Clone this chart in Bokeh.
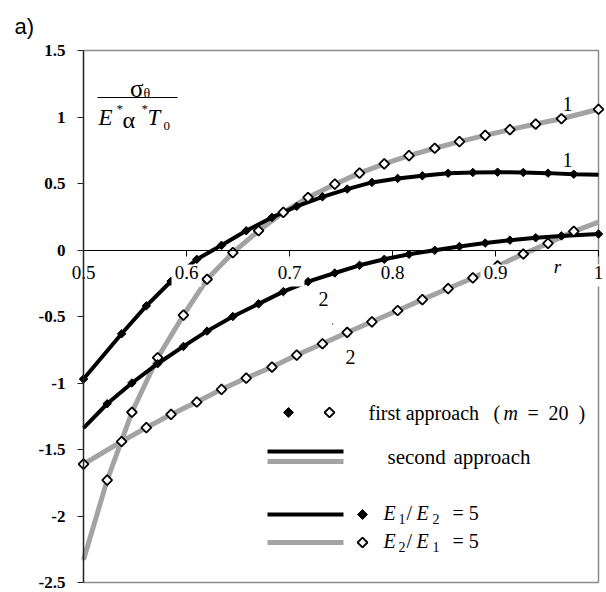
import math
from bokeh.plotting import figure
from bokeh.models import Range1d, LinearAxis, FixedTicker
from bokeh.core.properties import value
from bokeh.embed import file_html
from bokeh.resources import INLINE

# ---------------- data ----------------
X_TICKS = [0.5, 0.6, 0.7, 0.8, 0.9, 1.0]
X_TICK_LABELS = ["0.5", "0.6", "0.7", "0.8", "0.9", "1"]
Y_TICKS = [1.5, 1.0, 0.5, 0.0, -0.5, -1.0, -1.5, -2.0, -2.5]
Y_TICK_LABELS = ["1.5", "1", "0.5", "0", "-0.5", "-1", "-1.5", "-2", "-2.5"]

# first approach (m = 20) : points
R_A = [0.500, 0.537, 0.561, 0.585, 0.610, 0.634, 0.658, 0.683, 0.707, 0.732,
       0.756, 0.780, 0.805, 0.829, 0.854, 0.878, 0.902, 0.927, 0.951, 0.976]
FA_B1 = [-0.97, -0.63, -0.42, -0.235, -0.07, 0.035, 0.145, 0.245, 0.328, 0.40,
         0.458, 0.508, 0.538, 0.558, 0.577, 0.583, 0.585, 0.583, 0.578, 0.570]
FA_G2 = [-1.61, -1.44, -1.336, -1.236, -1.143, -1.048, -0.963, -0.88, -0.79, -0.705,
         -0.62, -0.54, -0.455, -0.373, -0.29, -0.21, -0.12, -0.03, 0.05, 0.14]
R_B = [0.523, 0.547, 0.572, 0.597, 0.620, 0.645, 0.670, 0.694, 0.718, 0.744,
       0.768, 0.792, 0.816, 0.841, 0.865, 0.890, 0.914, 0.939, 0.964, 1.000]
FA_G1 = [-1.73, -1.22, -0.81, -0.49, -0.22, -0.02, 0.145, 0.283, 0.395, 0.495,
         0.578, 0.648, 0.710, 0.765, 0.815, 0.862, 0.905, 0.947, 0.987, 1.058]
FA_B2 = [-1.156, -1.0, -0.855, -0.725, -0.61, -0.50, -0.405, -0.313, -0.238, -0.173,
         -0.115, -0.070, -0.032, -0.002, 0.026, 0.052, 0.074, 0.092, 0.106, 0.12]

# second approach : curves
SA_B1_X = R_A + [1.0]
SA_B1_Y = FA_B1 + [0.565]
SA_G2_X = R_A + [1.0]
SA_G2_Y = FA_G2 + [0.21]
SA_G1_X = [0.5] + R_B
SA_G1_Y = [-2.33] + FA_G1
SA_B2_X = [0.5] + R_B
SA_B2_Y = [-1.34] + FA_B2

# ---------------- layout helpers ----------------
W, H = 606, 592
FL, FT, FW, FH = 83, 50, 515, 532          # plot box inside the canvas (pixels)
X0, X1, Y0, Y1 = 0.5, 1.0, -2.5, 1.5        # axis limits of the plot box


def dx(px):
    return X0 + (px - FL) * (X1 - X0) / FW


def dy(py):
    return Y1 - (py - FT) * (Y1 - Y0) / FH


SERIF_NAME = "Liberation Serif, Times New Roman, serif"
SANS_NAME = "Liberation Sans, Arial, sans-serif"
SERIF = value(SERIF_NAME)
BLACK = "#000000"
GRAY = "#a3a3a3"
BOX = "#8c8c8c"

# the frame spans the whole canvas so that texts near the box edges are not clipped
p = figure(width=W, height=H, output_backend="svg", toolbar_location=None,
           x_range=Range1d(dx(0), dx(W)), y_range=Range1d(dy(H), dy(0)),
           x_axis_location=None, y_axis_location=None,
           min_border=0, min_border_left=0, min_border_right=0,
           min_border_top=0, min_border_bottom=0)
p.grid.grid_line_color = None
p.outline_line_color = None
p.background_fill_color = "white"
p.border_fill_color = "white"

# plot box (top, right, bottom)
p.line([X0, X1, X1, X0], [Y1, Y1, Y0, Y0], line_color=BOX, line_width=1.5)

# y axis at r = 0.5
ya = LinearAxis(fixed_location=X0, bounds=(Y0, Y1), ticker=FixedTicker(ticks=Y_TICKS),
                major_label_overrides={t: l for t, l in zip(Y_TICKS, Y_TICK_LABELS)},
                major_label_text_font=SERIF_NAME, major_label_text_font_style="bold",
                major_label_text_font_size="17px", major_label_text_color=BLACK,
                major_label_standoff=12,
                major_tick_in=0, major_tick_out=6, minor_tick_in=0, minor_tick_out=0,
                axis_line_color="#222222", axis_line_width=1.5,
                major_tick_line_color="#222222")
p.add_layout(ya, "left")

# x axis at y = 0
xa = LinearAxis(fixed_location=0, bounds=(X0, X1), ticker=FixedTicker(ticks=X_TICKS),
                major_label_overrides={t: l for t, l in zip(X_TICKS, X_TICK_LABELS)},
                major_label_text_font=SERIF_NAME, major_label_text_font_size="19px",
                major_label_text_color=BLACK, major_label_standoff=10,
                major_tick_in=0, major_tick_out=6, minor_tick_in=0, minor_tick_out=0,
                axis_line_color=BLACK, axis_line_width=1,
                major_tick_line_color=BLACK)
p.add_layout(xa, "below")

# curves (second approach)
p.line(SA_G1_X, SA_G1_Y, line_color=GRAY, line_width=5)
p.line(SA_G2_X, SA_G2_Y, line_color=GRAY, line_width=5)
p.line(SA_B1_X, SA_B1_Y, line_color=BLACK, line_width=4)
p.line(SA_B2_X, SA_B2_Y, line_color=BLACK, line_width=4)

# points (first approach)
open_kw = dict(marker="square", angle=math.pi / 4, size=7, fill_color="white",
               line_color=BLACK, line_width=1.8)
fill_kw = dict(marker="square", angle=math.pi / 4, size=6, fill_color=BLACK,
               line_color=BLACK, line_width=1)
p.scatter(R_B, FA_G1, **open_kw)
p.scatter(R_A, FA_G2, **open_kw)
p.scatter(R_A, FA_B1, **fill_kw)
p.scatter(R_B, FA_B2, **fill_kw)

# white boxes behind the x tick labels (the labels are drawn by the axis on top)
p.rect(x=X_TICKS, y=[dy(275)] * len(X_TICKS), width=30, height=22,
       width_units="screen", height_units="screen",
       fill_color="white", line_color=None)


def txt(items, size="19px", style="normal", align="left", font=SERIF):
    xs = [dx(a) for a, b, c in items]
    ys = [dy(b) for a, b, c in items]
    ts = [c for a, b, c in items]
    p.text(xs, ys, text=ts, text_font=font, text_font_size=size,
           text_font_style=style, text_align=align, text_baseline="middle",
           text_color=BLACK)


# panel label
txt([(14, 26, "a)")], size="22px", font=value(SANS_NAME))

# axis name r and curve numbers
txt([(557, 266, "r")], style="italic", align="center")
txt([(567, 103, "1"), (567, 159, "1"), (323, 298, "2"), (350, 356, "2")],
    size="20px", align="center")
txt([(332, 325, "'")], size="9px", align="center")

# y label fraction
txt([(143, 88, "σ")], size="25px", align="right")
txt([(143, 93, "θ")], size="14px", align="left")
p.segment(x0=[dx(97)], y0=[dy(97)], x1=[dx(177)], y1=[dy(97)],
          line_color=BLACK, line_width=1.2)
txt([(98, 117, "E"), (147, 117, "T")], size="23px", style="italic")
txt([(122, 119, "α")], size="24px")
txt([(116, 108, "*"), (141, 108, "*")], size="13px")
txt([(163, 125, "0")], size="13px")

# legend (drawn)
LEG_ROW = [412, 456, 514, 542]
p.scatter([dx(288)], [dy(LEG_ROW[0])], **dict(fill_kw, size=7))
p.scatter([dx(329)], [dy(LEG_ROW[0])], **open_kw)
txt([(368, LEG_ROW[0], "first approach"), (493, LEG_ROW[0], "("),
     (527, LEG_ROW[0], "="), (548, LEG_ROW[0], "20"), (578, LEG_ROW[0], ")")], size="20px")
txt([(503, LEG_ROW[0], "m")], style="italic", size="20px")

p.line([dx(267), dx(343)], [dy(LEG_ROW[1] - 5)] * 2, line_color=BLACK, line_width=4)
p.line([dx(267), dx(343)], [dy(LEG_ROW[1] + 5)] * 2, line_color=GRAY, line_width=5)
txt([(387, LEG_ROW[1], "second"), (453, LEG_ROW[1], "approach")], size="21px")

p.line([dx(267), dx(343)], [dy(LEG_ROW[2])] * 2, line_color=BLACK, line_width=4)
p.scatter([dx(362)], [dy(LEG_ROW[2])], **dict(fill_kw, size=7))
p.line([dx(267), dx(343)], [dy(LEG_ROW[3])] * 2, line_color=GRAY, line_width=5)
p.scatter([dx(362)], [dy(LEG_ROW[3])], **open_kw)
for row, (a, b) in ((LEG_ROW[2], ("1", "2")), (LEG_ROW[3], ("2", "1"))):
    txt([(383, row - 2, "E"), (416, row - 2, "E")], style="italic", size="20px")
    txt([(398, row + 4, a), (432, row + 4, b)], size="14px")
    txt([(406, row - 2, "/"), (452, row - 2, "= 5")], size="20px")

open("out.html", "w").write(file_html(p, INLINE))
